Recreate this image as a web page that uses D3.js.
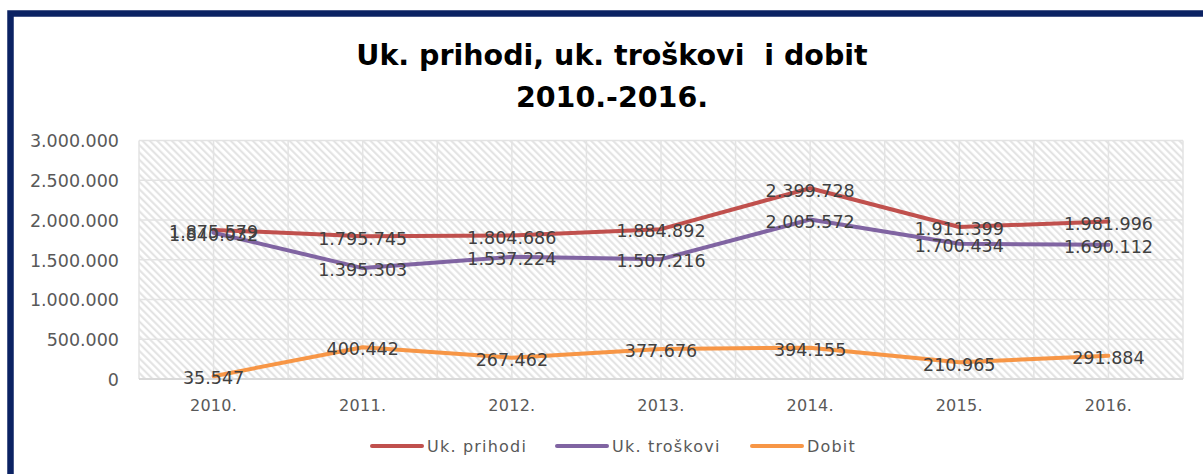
<!DOCTYPE html>
<html><head><meta charset="utf-8">
<script src="https://cdn.jsdelivr.net/npm/d3@7"></script>
<style>html,body{margin:0;padding:0;background:#fff;}svg{display:block;}</style>
</head><body>
<svg id="c" width="1203" height="474"></svg>
<script>
const categories = ["2010.","2011.","2012.","2013.","2014.","2015.","2016."];
const prihodi = [1875579,1795745,1804686,1884892,2399728,1911399,1981996];
const troskovi = [1840032,1395303,1537224,1507216,2005572,1700434,1690112];
const dobit = [35547,400442,267462,377676,394155,210965,291884];
const yTicks = [0,500000,1000000,1500000,2000000,2500000,3000000];
const seriesNames = ["Uk. prihodi","Uk. troškovi","Dobit"];
const seriesColors = ["#c0504d","#8064a2","#f79646"];
const titleLines = ["Uk. prihodi, uk. troškovi  i dobit","2010.-2016."];

const series = [prihodi, troskovi, dobit].map((v,i)=>({name:seriesNames[i], color:seriesColors[i], values:v}));
const loc = d3.formatLocale({decimal:",", thousands:".", grouping:[3], currency:["",""]});
const fmt = loc.format(",d");

const svg = d3.select("#c");
const W = 1203, H = 474;
const L = 139, R = 1183, T = 140.5, B = 379;

// frame
svg.append("rect").attr("x",10.5).attr("y",13.5).attr("width",W+20).attr("height",H+20)
  .attr("fill","#fff").attr("stroke","#0b2263").attr("stroke-width",6.5);

// hatch pattern
const defs = svg.append("defs");
const P = 5.2;
const pat = defs.append("pattern").attr("id","hatch").attr("patternUnits","userSpaceOnUse")
  .attr("width",P).attr("height",P).attr("patternTransform","rotate(-45)");
pat.append("rect").attr("width",P).attr("height",P).attr("fill","#fff");
pat.append("line").attr("x1",1.2).attr("y1",-2).attr("x2",1.2).attr("y2",P+2)
  .attr("stroke","#e0e0e0").attr("stroke-width",1.9);

const x = d3.scaleBand().domain(categories).range([L,R]).paddingInner(0).paddingOuter(0);
const xc = d => x(d) + x.bandwidth()/2;
const y = d3.scaleLinear().domain([0,3000000]).range([B,T]);

svg.append("rect").attr("x",L).attr("y",T).attr("width",R-L).attr("height",B-T).attr("fill","url(#hatch)");

// gridlines
const g = svg.append("g");
g.selectAll("line.h").data(yTicks).join("line").attr("class","h")
  .attr("x1",L).attr("x2",R).attr("y1",d=>y(d)).attr("y2",d=>y(d))
  .attr("stroke","#e3e3e3").attr("stroke-width",1.5);
const vpos = [];
categories.forEach(c=>{vpos.push(x(c)); vpos.push(xc(c));});
vpos.push(R);
g.selectAll("line.v").data(vpos).join("line").attr("class","v")
  .attr("x1",d=>d).attr("x2",d=>d).attr("y1",T).attr("y2",B)
  .attr("stroke","#e3e3e3").attr("stroke-width",1.5);
svg.append("line").attr("x1",L).attr("x2",R).attr("y1",B).attr("y2",B)
  .attr("stroke","#d9d9d9").attr("stroke-width",2);

// y axis labels
const yAxis = d3.axisLeft(y).tickValues(yTicks).tickFormat(fmt).tickSize(0).tickPadding(0);
const ya = svg.append("g").attr("transform",`translate(119,0)`).call(yAxis);
ya.select(".domain").remove();
ya.selectAll("text").attr("font-family","DejaVu Sans").attr("font-size",17.5).attr("fill","#595959").attr("dy","0.36em");

// x axis labels
const xAxis = d3.axisBottom(x).tickSize(0).tickPadding(0);
const xa = svg.append("g").attr("transform",`translate(0,400)`).call(xAxis);
xa.select(".domain").remove();
xa.selectAll("text").attr("font-family","DejaVu Sans").attr("font-size",16).attr("fill","#595959").attr("dy","0.71em").attr("letter-spacing",0.3);

// lines
const line = d3.line().x((d,i)=>xc(categories[i])).y(d=>y(d));
svg.selectAll("path.s").data(series).join("path").attr("class","s")
  .attr("d",d=>line(d.values)).attr("fill","none").attr("stroke",d=>d.color)
  .attr("stroke-width",4).attr("stroke-linejoin","round").attr("stroke-linecap","round");

// data labels
series.forEach(s=>{
  svg.append("g").selectAll("text").data(s.values).join("text")
    .attr("x",(d,i)=>xc(categories[i])).attr("y",d=>y(d)+2)
    .attr("text-anchor","middle").attr("dy","0.36em")
    .attr("font-family","DejaVu Sans").attr("font-size",17.5).attr("fill","#404040")
    .text(d=>fmt(d));
});

// title
svg.append("g").selectAll("text").data(titleLines).join("text")
  .attr("x",612).attr("y",(d,i)=>64.5+i*42.5).attr("text-anchor","middle")
  .style("white-space","pre").attr("xml:space","preserve")
  .attr("font-family","DejaVu Sans").attr("font-weight","bold").attr("font-size",28.5).attr("fill","#000")
  .text(d=>d);

// legend
const legX = [372,557,752];
const lg = svg.append("g").selectAll("g").data(series).join("g")
  .attr("transform",(d,i)=>`translate(${legX[i]},446)`);
lg.append("line").attr("x1",0).attr("x2",50).attr("y1",0).attr("y2",0)
  .attr("stroke",d=>d.color).attr("stroke-width",4).attr("stroke-linecap","round");
lg.append("text").attr("x",55).attr("y",0).attr("dy","0.36em")
  .attr("font-family","DejaVu Sans").attr("font-size",16).attr("fill","#595959").attr("letter-spacing",1.2)
  .text(d=>d.name);
</script>
</body></html>
